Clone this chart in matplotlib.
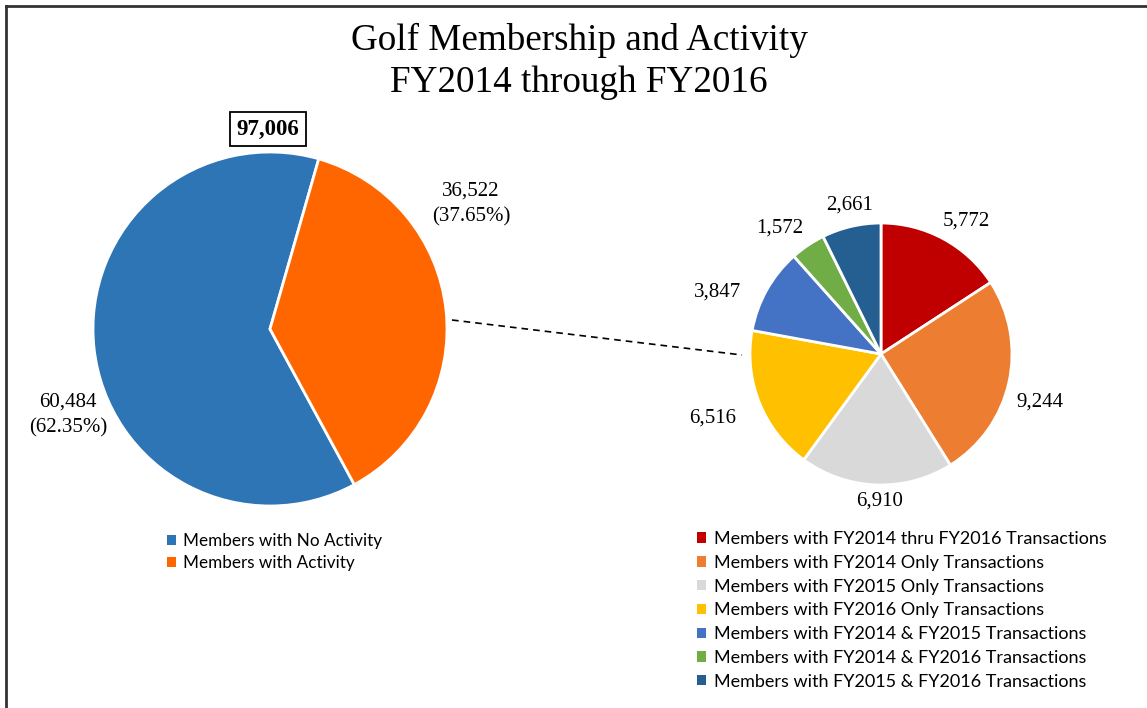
import matplotlib
matplotlib.use("Agg")
import matplotlib.pyplot as plt
from matplotlib.lines import Line2D

W, H = 1147, 708

main_labels = ["Members with No Activity", "Members with Activity"]
main_values = [60484, 36522]
main_colors = ["#2E75B6", "#FF6600"]
main_total = 97006

sub_labels = ["Members with FY2014 thru FY2016 Transactions",
              "Members with FY2014 Only Transactions",
              "Members with FY2015 Only Transactions",
              "Members with FY2016 Only Transactions",
              "Members with FY2014 & FY2015 Transactions",
              "Members with FY2014 & FY2016 Transactions",
              "Members with FY2015 & FY2016 Transactions"]
sub_values = [5772, 9244, 6910, 6516, 3847, 1572, 2661]
sub_colors = ["#C00000", "#ED7D31", "#D9D9D9", "#FFC000", "#4472C4", "#70AD47", "#255E91"]

serif = "Liberation Serif"
sans = "Lato"

fig = plt.figure(figsize=(W / 100, H / 100), dpi=100)
ax = fig.add_axes([0, 0, 1, 1])

# big pie, orange slice starts at ~74 deg and runs clockwise
frac_act = main_values[1] / sum(main_values)
start = 74 - 360 * frac_act
w_main, _ = ax.pie(main_values, colors=main_colors, center=(270, H - 329), radius=177,
                   startangle=start, counterclock=False,
                   wedgeprops=dict(edgecolor="white", linewidth=2))

w_sub, _ = ax.pie(sub_values, colors=sub_colors, center=(881, H - 354), radius=131,
                  startangle=90, counterclock=False,
                  wedgeprops=dict(edgecolor="white", linewidth=2))

ax.set_xlim(0, W)
ax.set_ylim(0, H)
ax.set_aspect("auto")
ax.axis("off")

# connector
ax.plot([452, 742], [H - 320, H - 355], ls=(0, (4, 3)), color="black", lw=1.2)

# labels
tot = sum(main_values)
ax.text(471, H - 204, f"{main_values[1]:,}\n({main_values[1] / tot:.2%})", ha="center", va="center",
        fontsize=15, family=serif, linespacing=1.5)
ax.text(68, H - 415, f"{main_values[0]:,}\n({main_values[0] / tot:.2%})", ha="center", va="center",
        fontsize=15, family=serif, linespacing=1.5)
ax.text(268, H - 129, f"{main_total:,}", ha="center", va="center", fontsize=16.5, family=serif,
        fontweight="bold", bbox=dict(boxstyle="square,pad=0.3", fc="white", ec="black", lw=1.3))

sub_pos = [(966, 221), (1040, 402), (880, 501), (713, 418), (718, 292), (780, 228), (850, 205)]
for v, (x, y) in zip(sub_values, sub_pos):
    ax.text(x, H - y, f"{v:,}", ha="center", va="center", fontsize=15, family=serif)

fig.text(579 / W, 1 - 40 / H, "Golf Membership and Activity", ha="center", va="center",
         fontsize=26.7, family=serif)
fig.text(579 / W, 1 - 83 / H, "FY2014 through FY2016", ha="center", va="center",
         fontsize=26.7, family=serif)

leg1 = fig.legend(w_main, main_labels, loc="upper left", bbox_to_anchor=(167 / W, 1 - 533 / H),
                  frameon=False, prop=dict(family=sans, size=12.3), handlelength=0.5,
                  handleheight=0.5, handletextpad=0.45, labelspacing=0.36, borderpad=0,
                  borderaxespad=0)
leg2 = fig.legend(w_sub, sub_labels, loc="upper left", bbox_to_anchor=(697 / W, 1 - 531 / H),
                  frameon=False, prop=dict(family=sans, size=13), handlelength=0.5,
                  handleheight=0.5, handletextpad=0.45, labelspacing=0.43, borderpad=0,
                  borderaxespad=0)
for leg in (leg1, leg2):
    for p in leg.get_patches():
        p.set_linewidth(0)

# outer frame (left and top edges visible)
fig.add_artist(Line2D([5.5 / W, 5.5 / W], [0, 1 - 6 / H], transform=fig.transFigure, color="#333333", lw=2))
fig.add_artist(Line2D([5.5 / W, 1], [1 - 6 / H, 1 - 6 / H], transform=fig.transFigure, color="#333333", lw=2))

fig.savefig("out.png", dpi=100)
